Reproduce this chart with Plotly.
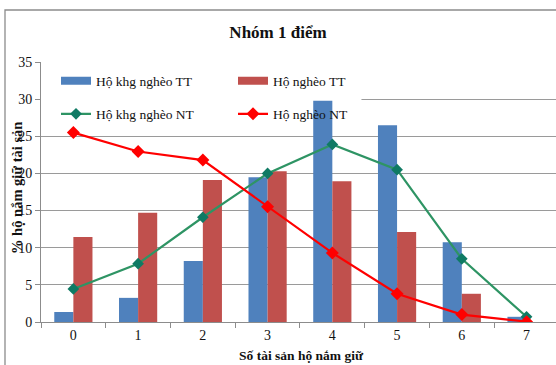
import plotly.graph_objects as go

categories = ["0", "1", "2", "3", "4", "5", "6", "7"]
kngheo_tt = [1.35, 3.25, 8.2, 19.5, 29.8, 26.5, 10.75, 0.7]
ngheo_tt = [11.45, 14.7, 19.1, 20.3, 18.95, 12.1, 3.8, 0]
kngheo_nt = [4.45, 7.85, 14.1, 20.0, 23.9, 20.5, 8.5, 0.7]
ngheo_nt = [25.5, 22.95, 21.8, 15.5, 9.3, 3.8, 1.0, 0.05]
yticks = [0, 5, 10, 15, 20, 25, 30, 35]

SERIF = "Liberation Serif, Times New Roman, serif"
W, H = 556, 365
ML, MR, MT, MB = 41, 0, 62, 43
BLUE, RED = "#4F81BD", "#C0504D"

fig = go.Figure()
fig.add_trace(go.Bar(x=categories, y=kngheo_tt, name="Hộ khg nghèo TT", showlegend=False,
                     marker=dict(color=BLUE, line=dict(width=0))))
fig.add_trace(go.Bar(x=categories, y=ngheo_tt, name="Hộ nghèo TT", showlegend=False,
                     marker=dict(color=RED, line=dict(width=0))))
# legend proxies for the bar series (wide swatches)
fig.add_trace(go.Scatter(x=[None], y=[None], name="Hộ khg nghèo TT", mode="lines",
                         line=dict(color=BLUE, width=8), legend="legend"))
fig.add_trace(go.Scatter(x=[None], y=[None], name="Hộ nghèo TT", mode="lines",
                         line=dict(color=RED, width=8), legend="legend"))
fig.add_trace(go.Scatter(x=categories, y=kngheo_nt, name="Hộ khg nghèo NT", mode="lines+markers",
                         line=dict(color="#2E9464", width=2.2),
                         marker=dict(symbol="diamond", size=9, color="#0F7A64"), legend="legend2"))
fig.add_trace(go.Scatter(x=categories, y=ngheo_nt, name="Hộ nghèo NT", mode="lines+markers",
                         line=dict(color="#FF0000", width=2.2),
                         marker=dict(symbol="diamond", size=10, color="#FF0000"), legend="legend2"))

# white area behind the legend covering gridlines (below traces)
fig.add_shape(type="rect", xref="x", yref="y", x0=-0.5, x1=4.45, y0=26, y1=34.6,
              fillcolor="white", line=dict(width=0), layer="between")

# outer chart border
fig.add_shape(type="rect", xref="paper", yref="paper",
              x0=(5 - ML) / (W - ML - MR), x1=1.2,
              y0=-0.5, y1=(H - MB - 10) / (H - MT - MB),
              line=dict(color="#8C8C8C", width=1.3), fillcolor="rgba(0,0,0,0)", layer="above")

leg_common = dict(orientation="h", xanchor="left", yanchor="middle", bgcolor="rgba(0,0,0,0)",
                  font=dict(family=SERIF, size=13.5, color="#111"), entrywidth=132,
                  entrywidthmode="pixels", itemwidth=30, tracegroupgap=0)
fig.update_layout(
    width=W, height=H,
    margin=dict(l=ML, r=MR, t=MT, b=MB, pad=0),
    paper_bgcolor="white", plot_bgcolor="white",
    barmode="group", bargap=0.41, bargroupgap=0,
    title=dict(text="<b>Nhóm 1 điểm</b>", x=0.5, xanchor="center", y=1 - 32 / H, yanchor="middle",
               font=dict(family=SERIF, size=17, color="#111")),
    legend=dict(x=(56 - ML) / (W - ML), y=(322 - 81) / 260, **leg_common),
    legend2=dict(x=(56 - ML) / (W - ML), y=(322 - 114) / 260, **leg_common),
    xaxis=dict(type="category", range=[-0.5, 7.455], showline=True, linecolor="#8C8C8C", linewidth=1,
               ticks="outside", tickson="boundaries", ticklen=5, tickcolor="#8C8C8C",
               showgrid=False, tickfont=dict(family=SERIF, size=14, color="#111")),
    yaxis=dict(range=[0, 35], tickvals=yticks, showline=True, linecolor="#8C8C8C", linewidth=1,
               ticks="outside", ticklen=5, tickcolor="#8C8C8C", showgrid=True, gridcolor="#9A9A9A",
               gridwidth=1, zeroline=False, tickfont=dict(family=SERIF, size=14, color="#111")),
    annotations=[
        dict(text="<b>% hộ nắm giữ tài sản</b>", xref="paper", yref="paper",
             x=(17 - ML) / (W - ML), y=(322 - 188) / 260, textangle=-90, showarrow=False,
             xanchor="center", yanchor="middle", font=dict(family=SERIF, size=14.5, color="#111")),
        dict(text="<b>Số tài sản hộ nắm giữ</b>", xref="paper", yref="paper",
             x=(301 - ML) / (W - ML), y=(322 - 355) / 260, showarrow=False,
             xanchor="center", yanchor="middle", font=dict(family=SERIF, size=13.5, color="#111")),
    ],
)
fig.write_html("out.html")
